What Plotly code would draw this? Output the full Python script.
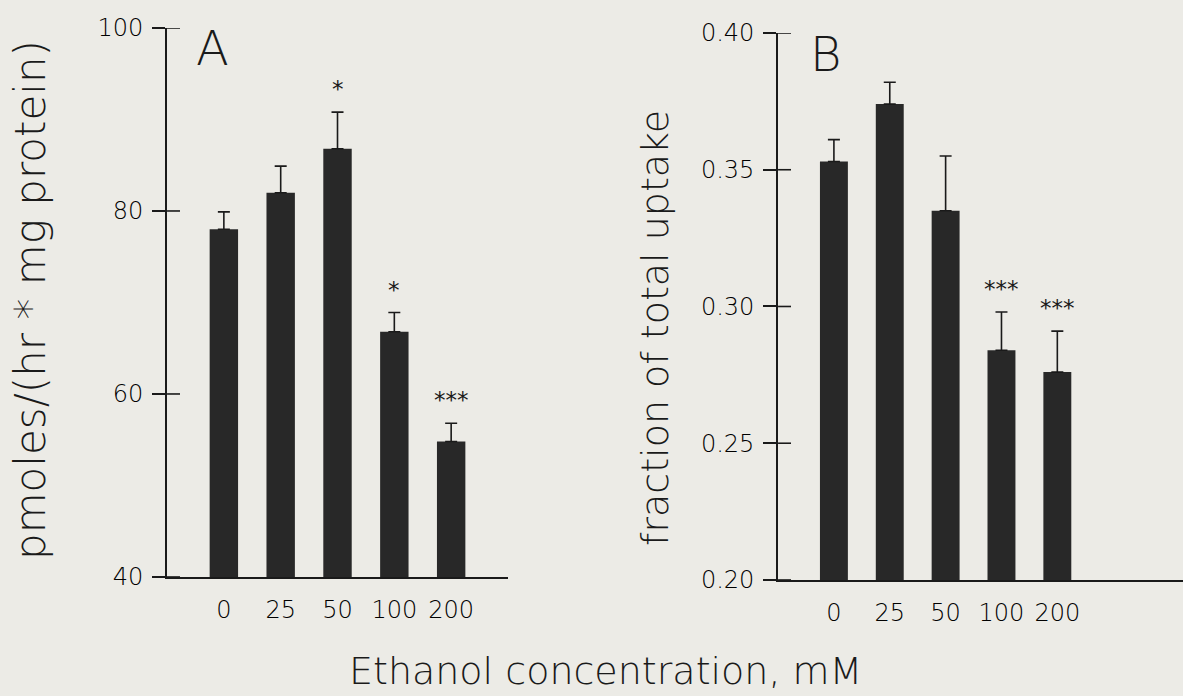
import plotly.graph_objects as go

# ---------------- data ----------------
categories = ["0", "25", "50", "100", "200"]

uptake_A = [78.0, 82.0, 86.8, 66.8, 54.8]          # pmoles/(hr * mg protein)
err_A = [1.9, 2.9, 4.0, 2.1, 2.0]
stars_A = ["", "", "*", "*", "***"]

fraction_B = [0.353, 0.374, 0.335, 0.284, 0.276]   # fraction of total uptake
err_B = [0.008, 0.008, 0.020, 0.014, 0.015]
stars_B = ["", "", "", "***", "***"]

ticks_A = [40, 60, 80, 100]
ticks_B = [0.20, 0.25, 0.30, 0.35, 0.40]
ticktext_B = ["0.20", "0.25", "0.30", "0.35", "0.40"]

# ---------------- style ----------------
BG = "#ecebe6"
INK = "#1a1a1a"
BAR = "#282828"
FONT = "DejaVu Sans"
LIGHT = 200

fig = go.Figure()

fig.add_trace(go.Bar(
    x=categories, y=uptake_A, width=0.5,
    marker=dict(color=BAR, line=dict(width=0)),
    error_y=dict(type="data", array=err_A, arrayminus=[0] * len(err_A),
                 symmetric=False, color=INK, thickness=1.6, width=6),
    xaxis="x", yaxis="y", showlegend=False,
))
fig.add_trace(go.Bar(
    x=categories, y=fraction_B, width=0.5,
    marker=dict(color=BAR, line=dict(width=0)),
    error_y=dict(type="data", array=err_B, arrayminus=[0] * len(err_B),
                 symmetric=False, color=INK, thickness=1.6, width=6),
    xaxis="x2", yaxis="y2", showlegend=False,
))

tickfont = dict(family=FONT, size=24, color="#000000", weight=LIGHT)

common_x = dict(type="category", showline=True, linecolor=INK, linewidth=1.8,
                ticks="", showgrid=False, zeroline=False, tickfont=tickfont,
                ticklabelstandoff=10, automargin=False)
common_y = dict(showline=True, linecolor=INK, linewidth=1.8, ticks="outside",
                ticklen=13, tickwidth=1.6, tickcolor=INK, showgrid=False,
                zeroline=False, tickfont=tickfont, ticklabelstandoff=4,
                automargin=False)

fig.update_layout(
    template="none",
    width=1183, height=696,
    margin=dict(l=0, r=0, t=0, b=0, pad=0),
    paper_bgcolor=BG, plot_bgcolor=BG,
    xaxis=dict(domain=[0.1412, 0.4294], range=[-1, 5], anchor="y", **common_x),
    yaxis=dict(domain=[0.171, 0.9598], range=[40, 100], tickvals=ticks_A,
               anchor="x", **common_y),
    xaxis2=dict(domain=[0.6577, 1.0], range=[-1, 6.25], anchor="y2", **common_x),
    yaxis2=dict(domain=[0.1667, 0.9526], range=[0.20, 0.40], tickvals=ticks_B,
                ticktext=ticktext_B, anchor="x2", **common_y),
)

# inner half of the crossing tick marks
shapes = []
for t in ticks_A:
    shapes.append(dict(type="line", xref="x domain", yref="y", x0=0, x1=0.038,
                       y0=t, y1=t, line=dict(color=INK, width=1.6)))
for t in ticks_B:
    shapes.append(dict(type="line", xref="x2 domain", yref="y2", x0=0, x1=0.032,
                       y0=t, y1=t, line=dict(color=INK, width=1.6)))
fig.update_layout(shapes=shapes)

annotations = []
starfont = dict(family=FONT, size=23, color=INK, weight=400)
for i, (v, e, s) in enumerate(zip(uptake_A, err_A, stars_A)):
    if s:
        annotations.append(dict(x=i, y=v + e, xref="x", yref="y", text=s,
                                showarrow=False, yanchor="bottom", yshift=8,
                                font=starfont))
for i, (v, e, s) in enumerate(zip(fraction_B, err_B, stars_B)):
    if s:
        annotations.append(dict(x=i, y=v + e, xref="x2", yref="y2", text=s,
                                showarrow=False, yanchor="bottom", yshift=8,
                                font=starfont))

annotations += [
    dict(text="A", xref="x domain", yref="y domain", x=0.08, y=1.019,
         xanchor="left", yanchor="top", showarrow=False,
         font=dict(family=FONT, size=48, color=INK, weight=LIGHT)),
    dict(text="B", xref="x2 domain", yref="y2 domain", x=0.075, y=1.016,
         xanchor="left", yanchor="top", showarrow=False,
         font=dict(family=FONT, size=48, color=INK, weight=LIGHT)),
    dict(text="pmoles/(hr * mg protein)", xref="paper", yref="paper",
         x=30 / 1183, y=1 - 300 / 696, textangle=-90, showarrow=False,
         xanchor="center", yanchor="middle",
         font=dict(family=FONT, size=42, color=INK, weight=LIGHT)),
    dict(text="fraction of total uptake", xref="paper", yref="paper",
         x=655 / 1183, y=1 - 328 / 696, textangle=-90, showarrow=False,
         xanchor="center", yanchor="middle",
         font=dict(family=FONT, size=38, color=INK, weight=LIGHT)),
    dict(text="Ethanol concentration, mM", xref="paper", yref="paper",
         x=605 / 1183, y=1 - 671 / 696, showarrow=False,
         xanchor="center", yanchor="middle",
         font=dict(family=FONT, size=38, color=INK, weight=LIGHT)),
]
fig.update_layout(annotations=annotations)

fig.write_html("out.html")
